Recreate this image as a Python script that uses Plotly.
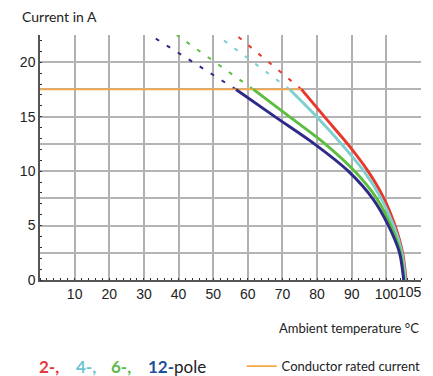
import plotly.graph_objects as go

# ---- data ----
x_tick_vals = [0, 10, 20, 30, 40, 50, 60, 70, 80, 90, 100, 110]
x_tick_text = ["", "10", "20", "30", "40", "50", "60", "70", "80", "90", "100", ""]
extra_x_tick = 105
y_tick_vals = [0, 2.5, 5, 7.5, 10, 12.5, 15, 17.5, 20, 22.5]
y_tick_text = ["0", "", "5", "", "10", "", "15", "", "20", ""]

rated_current = 17.5

red_x = [75.5, 82.1, 88.8, 94.7, 99.3, 102.5, 104.7, 105.7]
red_y = [17.5, 15.0, 12.5, 10.0, 7.5, 5.0, 2.5, 0.0]
cyan_x = [72.1, 79.9, 87.0, 93.5, 98.5, 102.1, 104.5, 105.5]
cyan_y = [17.5, 15.0, 12.5, 10.0, 7.5, 5.0, 2.5, 0.0]
green_x = [61.6, 72.0, 82.3, 90.8, 97.2, 101.3, 104.1, 105.1]
green_y = [17.5, 15.0, 12.5, 10.0, 7.5, 5.0, 2.5, 0.0]
blue_x = [56.6, 67.8, 79.2, 89.0, 96.0, 100.6, 103.8, 105.0]
blue_y = [17.5, 15.0, 12.5, 10.0, 7.5, 5.0, 2.5, 0.0]

# dashed extrapolations above the rated current (start -> top)
red_dash_x, red_dash_y = [75.5, 56.6], [17.5, 22.5]
cyan_dash_x, cyan_dash_y = [72.1, 51.0], [17.5, 22.5]
green_dash_x, green_dash_y = [61.6, 39.5], [17.5, 22.5]
blue_dash_x, blue_dash_y = [56.6, 31.8], [17.5, 22.5]

rated_x = [0, 75.5]

RED = "#e8372c"
CYAN = "#7dcfd0"
GREEN = "#5cbd3f"
BLUE = "#2e2a88"
ORANGE = "#f7a748"

fig = go.Figure()

for dx, dy, c in [(red_dash_x, red_dash_y, RED), (cyan_dash_x, cyan_dash_y, CYAN),
                  (green_dash_x, green_dash_y, GREEN), (blue_dash_x, blue_dash_y, BLUE)]:
    fig.add_trace(go.Scatter(x=dx, y=dy, mode="lines", showlegend=False,
                             line=dict(color=c, width=2, dash="4px,9px"),
                             hoverinfo="skip"))

fig.add_trace(go.Scatter(x=rated_x, y=[rated_current, rated_current], mode="lines",
                         name="Conductor rated current",
                         line=dict(color=ORANGE, width=1.8)))

for sx, sy, c in [(red_x, red_y, RED), (cyan_x, cyan_y, CYAN),
                  (green_x, green_y, GREEN), (blue_x, blue_y, BLUE)]:
    fig.add_trace(go.Scatter(x=sx, y=sy, mode="lines", showlegend=False,
                             line=dict(color=c, width=2.9, shape="spline", smoothing=0.8)))

tick_font = dict(family="Liberation Sans Narrow, Arial Narrow, Liberation Sans", size=14, color="#222")
text_font = dict(family="Lato, Open Sans, sans-serif", size=13, color="#222")

fig.update_xaxes(range=[0, 110], tickmode="array", tickvals=x_tick_vals, ticktext=x_tick_text,
                 showgrid=True, gridcolor="#b0b0b0", gridwidth=1.5,
                 showline=True, linecolor="#555", linewidth=1.5,
                 ticks="", tickfont=tick_font, zeroline=False,
                 minor=dict(dtick=2, tick0=0, ticks="inside", ticklen=2, tickcolor="#333",
                            tickwidth=1, showgrid=False))
fig.update_yaxes(range=[0, 22.5], tickmode="array", tickvals=y_tick_vals, ticktext=y_tick_text,
                 showgrid=True, gridcolor="#b4b4b4", gridwidth=1.5,
                 showline=True, linecolor="#555", linewidth=1.5,
                 ticks="", tickfont=tick_font, zeroline=False,
                 minor=dict(dtick=1, tick0=0, ticks="inside", ticklen=2, tickcolor="#333",
                            tickwidth=1, showgrid=False))

annotations = [
    dict(x=extra_x_tick, y=0, xref="x", yref="y", text=str(extra_x_tick), showarrow=False,
         xanchor="center", yanchor="top", xshift=6, yshift=-2, font=tick_font),
    dict(x=-0.052, y=1.0, xref="paper", yref="paper", text="Current in A", showarrow=False,
         xanchor="left", yanchor="bottom", yshift=8, font=dict(text_font, size=14)),
    dict(x=1.0, y=-0.195, xref="paper", yref="paper", text="Ambient temperature °C",
         showarrow=False, xanchor="right", yanchor="middle", font=text_font),
]
leg_font = dict(family="Lato, Open Sans, sans-serif", size=17)
for px, txt, col in [(-0.008, "<b>2-,</b>", "#e8353a"), (0.09, "<b>4-,</b>", "#6cc5d2"),
                     (0.182, "<b>6-,</b>", "#5cb94a")]:
    annotations.append(dict(x=px, y=-0.352, xref="paper", yref="paper", text=txt,
                            showarrow=False, xanchor="left", yanchor="middle",
                            font=dict(leg_font, color=col)))
annotations.append(dict(x=0.277, y=-0.352, xref="paper", yref="paper",
                        text="<b><span style='color:#1c4f9c'>12-</span></b>pole",
                        showarrow=False, xanchor="left", yanchor="middle",
                        font=dict(leg_font, color="#222")))

# page has an 8px body margin; size the figure so it fits the 433x376 window exactly
fig.update_layout(
    width=425, height=368,
    margin=dict(l=32, r=12, t=27, b=96, autoexpand=False),
    plot_bgcolor="white", paper_bgcolor="white",
    annotations=annotations,
    showlegend=True,
    legend=dict(x=1.012, xanchor="right", y=-0.352, yanchor="middle",
                font=dict(family="Lato, Open Sans, sans-serif", size=13, color="#222"),
                bgcolor="rgba(0,0,0,0)", itemwidth=30),
)

fig.write_html("out.html")
